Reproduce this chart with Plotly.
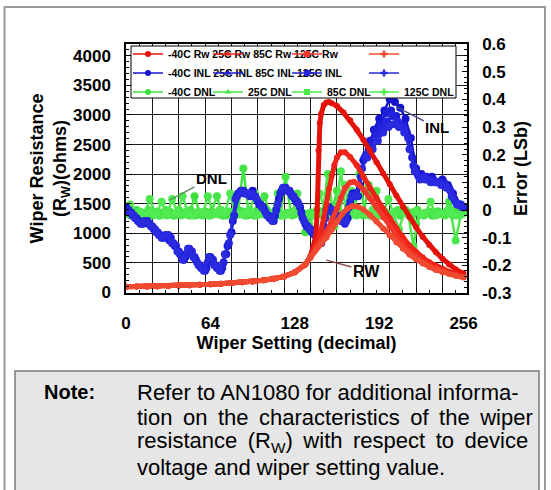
import plotly.graph_objects as go

# ---------------- data ----------------
wiper_tick_vals = [0, 64, 128, 192, 256]
wiper_tick_text = ["0", "64", "128", "192", "256"]
rw_tick_vals = [0, 500, 1000, 1500, 2000, 2500, 3000, 3500, 4000]
rw_tick_text = ["0", "500", "1000", "1500", "2000", "2500", "3000", "3500", "4000"]
err_tick_vals = [-0.3, -0.2, -0.1, 0, 0.1, 0.2, 0.3, 0.4, 0.5, 0.6]
err_tick_text = ["-0.3", "-0.2", "-0.1", "0", "0.1", "0.2", "0.3", "0.4", "0.5", "0.6"]

# wiper resistance (ohms): common low part, then one tail per temperature
rw_low_codes = [0, 8, 16, 24, 32, 40, 48, 56, 64, 72, 80, 88, 96, 104, 112, 120, 128, 136]
rw_low_ohms = [95, 98, 102, 106, 110, 115, 121, 128, 136, 146, 157, 170, 185, 205, 232, 270, 340, 470]

rw_m40_codes = [140, 142, 144, 145, 146, 147, 148, 150, 152, 154, 156, 160, 165, 170, 175, 180, 185, 190,
                195, 200, 205, 210, 215, 220, 225, 230, 235, 240, 245, 250, 256]
rw_m40_ohms = [620, 760, 950, 1400, 2400, 2860, 3020, 3170, 3210, 3220, 3200, 3150, 3040, 2910, 2750, 2580,
               2400, 2200, 2010, 1830, 1640, 1450, 1270, 1100, 940, 800, 680, 570, 470, 390, 320]

rw_25_codes = [140, 144, 148, 150, 152, 154, 156, 158, 160, 163, 166, 170, 175, 180, 185, 190, 195, 200,
               205, 210, 215, 220, 225, 230, 235, 240, 245, 250, 256]
rw_25_ohms = [610, 800, 1050, 1250, 1500, 1750, 1980, 2150, 2280, 2370, 2370, 2290, 2150, 1950, 1760, 1590,
              1420, 1250, 1080, 930, 790, 680, 590, 510, 450, 400, 350, 310, 270]

rw_85_codes = [140, 144, 148, 152, 156, 160, 163, 166, 170, 173, 176, 180, 185, 190, 195, 200, 205, 210,
               215, 220, 225, 230, 235, 240, 245, 250, 256]
rw_85_ohms = [600, 760, 880, 1020, 1200, 1420, 1600, 1760, 1860, 1870, 1830, 1740, 1590, 1430, 1270, 1110,
              960, 820, 700, 600, 520, 450, 400, 360, 320, 290, 260]

rw_125_codes = [140, 144, 148, 152, 156, 160, 164, 168, 172, 176, 180, 185, 190, 195, 200, 205, 210, 215,
                220, 225, 230, 235, 240, 245, 250, 256]
rw_125_ohms = [590, 720, 820, 930, 1060, 1200, 1330, 1420, 1460, 1450, 1400, 1310, 1200, 1080, 960, 850,
               740, 640, 560, 490, 430, 380, 340, 310, 280, 250]

# INL (LSb), each temperature sampled on every 4th code (interleaved)
inl_m40_codes = list(range(0, 257, 4))
inl_m40 = [0.01, -0.01, -0.03, -0.05, -0.04, -0.06, -0.08, -0.10, -0.09, -0.12, -0.15, -0.18, -0.14, -0.17,
           -0.20, -0.22, -0.17, -0.20, -0.22, -0.16, -0.08, 0.05, 0.07, 0.06, 0.07, 0.03, 0.01, -0.02, -0.04,
           0.04, 0.08, 0.07, 0.04, 0.01, -0.05, -0.07, -0.09, -0.12, 0.00, 0.00, -0.02, -0.04, -0.03, 0.06,
           0.05, 0.18, 0.22, 0.29, 0.33, 0.36, 0.40, 0.39, 0.37, 0.33, 0.26, 0.15, 0.13, 0.12, 0.12, 0.10,
           0.11, 0.09, 0.06, 0.02, 0.01]
inl_25_codes = list(range(1, 256, 4))
inl_25 = [0.00, -0.02, -0.04, -0.05, -0.05, -0.07, -0.09, -0.10, -0.11, -0.13, -0.16, -0.17, -0.15, -0.18,
          -0.21, -0.21, -0.18, -0.21, -0.21, -0.13, -0.04, 0.06, 0.07, 0.06, 0.05, 0.02, 0.00, -0.03, -0.02,
          0.06, 0.08, 0.06, 0.03, -0.01, -0.06, -0.08, -0.10, -0.10, 0.00, -0.01, -0.03, -0.04, 0.01, 0.06,
          0.09, 0.19, 0.25, 0.29, 0.31, 0.35, 0.36, 0.34, 0.31, 0.28, 0.19, 0.13, 0.12, 0.11, 0.11, 0.10,
          0.10, 0.08, 0.04, 0.02]
inl_85_codes = list(range(2, 256, 4))
inl_85 = [0.00, -0.02, -0.04, -0.04, -0.05, -0.07, -0.09, -0.09, -0.10, -0.13, -0.16, -0.16, -0.15, -0.19,
          -0.21, -0.19, -0.18, -0.21, -0.19, -0.12, -0.02, 0.06, 0.06, 0.05, 0.05, 0.02, -0.01, -0.03, 0.00,
          0.07, 0.07, 0.05, 0.03, -0.03, -0.06, -0.08, -0.11, -0.06, 0.01, -0.02, -0.03, -0.05, 0.03, 0.05,
          0.12, 0.20, 0.23, 0.27, 0.30, 0.32, 0.34, 0.32, 0.30, 0.26, 0.16, 0.12, 0.12, 0.11, 0.10, 0.10,
          0.09, 0.07, 0.03, 0.02]
inl_125_codes = list(range(3, 256, 4))
inl_125 = [-0.01, -0.03, -0.05, -0.04, -0.06, -0.08, -0.10, -0.09, -0.12, -0.15, -0.18, -0.14, -0.17, -0.20,
           -0.22, -0.17, -0.20, -0.22, -0.16, -0.09, 0.04, 0.07, 0.06, 0.06, 0.04, 0.01, -0.02, -0.04, 0.02,
           0.08, 0.07, 0.05, 0.02, -0.04, -0.07, -0.09, -0.12, -0.03, 0.00, -0.02, -0.04, -0.04, 0.05, 0.05,
           0.15, 0.19, 0.22, 0.25, 0.28, 0.30, 0.31, 0.30, 0.28, 0.22, 0.14, 0.11, 0.11, 0.10, 0.10, 0.09,
           0.08, 0.05, 0.02, 0.01]

# DNL (LSb), same interleaving
dnl_m40_codes = list(range(0, 257, 4))
dnl_m40 = [-0.01, -0.02, 0.0, -0.015, -0.01, -0.02, -0.005, -0.015, -0.01, -0.02, 0.0, -0.01, -0.02, 0.05,
           -0.015, -0.005, -0.02, -0.01, 0.0, -0.02, -0.01, -0.015, -0.005, -0.02, -0.01, 0.0, -0.015, -0.02,
           -0.01, -0.005, -0.02, -0.01, -0.015, 0.0, -0.08, -0.01, -0.02, -0.005, -0.015, -0.01, 0.07, -0.02,
           -0.01, 0.0, -0.015, -0.02, 0.09, -0.01, -0.02, -0.005, -0.015, -0.01, -0.02, 0.0, -0.01, -0.05,
           -0.015, -0.01, -0.02, -0.005, -0.015, -0.01, -0.02, 0.0, -0.01]
dnl_25_codes = list(range(1, 256, 4))
dnl_25 = [-0.015, -0.005, -0.02, -0.01, 0.0, -0.015, -0.02, -0.01, -0.005, -0.02, -0.01, -0.015, 0.0, -0.02,
          -0.01, -0.015, -0.005, 0.05, -0.02, -0.01, -0.015, 0.0, 0.15, -0.01, -0.02, -0.005, 0.05, -0.015,
          -0.01, -0.02, 0.12, -0.01, -0.005, -0.02, -0.015, -0.01, 0.0, -0.02, 0.13, -0.015, -0.01, -0.02,
          -0.005, -0.015, 0.13, -0.01, -0.02, 0.0, -0.015, -0.01, -0.02, -0.005, -0.015, -0.01, -0.02, 0.0,
          -0.015, -0.01, -0.02, -0.005, -0.015, 0.03, -0.01, -0.02]
dnl_85_codes = list(range(2, 256, 4))
dnl_85 = [-0.01, -0.02, -0.005, -0.015, 0.04, -0.01, -0.02, 0.0, -0.015, -0.01, -0.02, -0.005, -0.015, -0.01,
          -0.02, 0.05, -0.01, -0.015, -0.02, -0.005, -0.01, -0.015, -0.02, 0.0, 0.06, -0.015, -0.01, -0.02,
          -0.005, -0.015, -0.01, -0.02, 0.06, -0.01, -0.015, -0.02, -0.005, -0.01, -0.015, -0.06, -0.01, 0.09,
          -0.02, -0.01, -0.005, -0.015, -0.02, 0.07, -0.01, -0.015, -0.02, 0.0, -0.01, -0.015, -0.13, -0.01,
          -0.02, -0.005, -0.015, -0.01, -0.02, 0.0, -0.11, -0.015]
dnl_125_codes = list(range(3, 256, 4))
dnl_125 = [0.02, -0.015, -0.01, -0.02, -0.005, -0.015, 0.03, -0.02, 0.04, -0.01, 0.05, -0.015, -0.02, -0.005,
           -0.01, -0.02, -0.015, 0.0, -0.01, 0.06, -0.02, -0.015, -0.005, -0.01, -0.02, -0.015, 0.0, -0.01,
           0.06, -0.02, -0.015, -0.005, -0.01, -0.02, -0.05, -0.015, 0.06, -0.01, -0.02, -0.005, 0.14, -0.015,
           0.07, -0.02, -0.01, -0.015, 0.0, -0.02, -0.01, 0.04, -0.015, -0.07, -0.01, -0.02, -0.005, -0.015,
           -0.01, 0.03, -0.02, -0.015, -0.005, -0.01, -0.02, -0.015]

# legend columns as printed in the reference (texts of column 1 run across the row)
legend_columns = [
    ["-40C Rw 25C Rw 85C Rw 125C Rw", "-40C INL 25C INL 85C INL 125C INL", "-40C DNL"],
    [" ", " ", "25C DNL"],
    [" ", " ", "85C DNL"],
    [" ", " ", "125C DNL"],
]

note_label = "Note:"
note_lines = [
    "Refer to AN1080 for additional informa-",
    "tion on the characteristics of the wiper",
    "resistance (R<sub>W</sub>) with respect to device",
    "voltage and wiper setting value.",
]

# ---------------- styling ----------------
FONT = "Liberation Sans, Arial, Helvetica, sans-serif"
RW_COLORS = ["#e3130b", "#ee2418", "#f3352a", "#f04a30"]
INL_COLORS = ["#1515d0", "#1e1ed8", "#2424dc", "#2a2ae0"]
DNL_COLORS = ["#3ddf3d", "#45e445", "#4be84b", "#52ea52"]
SYMBOLS = ["circle", "triangle-up", "square", "cross"]
GRID = "#1c1c1c"

W_PX, H_PX = 551, 490
L, R, T, B = 126, 467, 44, 293


def px(xp):
    return (xp - L) / (R - L)


def py(yp):
    return (B - yp) / (B - T)


fig = go.Figure()

# DNL (drawn first, lowest)
dnl_sets = [(dnl_m40_codes, dnl_m40, "-40C DNL"), (dnl_25_codes, dnl_25, "25C DNL"),
            (dnl_85_codes, dnl_85, "85C DNL"), (dnl_125_codes, dnl_125, "125C DNL")]
for i, (cx, cy, nm) in enumerate(dnl_sets):
    fig.add_trace(go.Scatter(x=cx, y=cy, name=nm, mode="lines+markers", xaxis="x", yaxis="y",
                             line=dict(color=DNL_COLORS[i], width=2.5),
                             marker=dict(color=DNL_COLORS[i], size=8, symbol="circle"),
                             showlegend=False))

# INL
inl_sets = [(inl_m40_codes, inl_m40, "-40C INL"), (inl_25_codes, inl_25, "25C INL"),
            (inl_85_codes, inl_85, "85C INL"), (inl_125_codes, inl_125, "125C INL")]
for i, (cx, cy, nm) in enumerate(inl_sets):
    fig.add_trace(go.Scatter(x=cx, y=cy, name=nm, mode="lines+markers", xaxis="x", yaxis="y",
                             line=dict(color=INL_COLORS[i], width=2.5),
                             marker=dict(color=INL_COLORS[i], size=8, symbol="circle"),
                             showlegend=False))

# Rw on the overlaying left axis (drawn on top)
rw_sets = [(rw_m40_codes, rw_m40_ohms, "-40C Rw"), (rw_25_codes, rw_25_ohms, "25C Rw"),
           (rw_85_codes, rw_85_ohms, "85C Rw"), (rw_125_codes, rw_125_ohms, "125C Rw")]
for i, (cx, cy, nm) in enumerate(rw_sets):
    fig.add_trace(go.Scatter(x=rw_low_codes + cx, y=rw_low_ohms + cy, name=nm, mode="lines+markers",
                             xaxis="x", yaxis="y2",
                             line=dict(color=RW_COLORS[i], width=5),
                             marker=dict(color=RW_COLORS[i], size=6, symbol="circle"),
                             showlegend=False))

# legend entries, one legend per column; these also carry the labelled x axis (x2)
legend_ids = ["legend", "legend2", "legend3", "legend4"]
row_colors = [RW_COLORS, INL_COLORS, DNL_COLORS]
for c, col in enumerate(legend_columns):
    for r, lab in enumerate(col):
        fig.add_trace(go.Scatter(x=[None], y=[None], name=lab, mode="lines+markers", xaxis="x2", yaxis="y",
                                 line=dict(color=row_colors[r][c], width=1.5),
                                 marker=dict(color=row_colors[r][c], size=6, symbol=SYMBOLS[c]),
                                 showlegend=True, legend=legend_ids[c], hoverinfo="skip"))

tickfont = dict(family=FONT, size=17, color="black", weight="bold")
titlefont = dict(family=FONT, size=18, color="black", weight="bold")
legend_font = dict(family=FONT, size=10.5, color="black", weight="bold")
legend_left = [128, 208, 287, 364]


def legend_style(xpix):
    return dict(orientation="v", x=px(xpix), y=py(39.5), xanchor="left", yanchor="top",
                bgcolor="rgba(0,0,0,0)", borderwidth=0, font=legend_font, itemwidth=30,
                traceorder="normal")


fig.update_layout(
    width=W_PX, height=H_PX,
    margin=dict(l=L, r=W_PX - R, t=T, b=H_PX - B, pad=0),
    paper_bgcolor="white", plot_bgcolor="white",
    font=dict(family=FONT, color="black"),
    showlegend=True,
    legend=legend_style(legend_left[0]),
    legend2=legend_style(legend_left[1]),
    legend3=legend_style(legend_left[2]),
    legend4=legend_style(legend_left[3]),
    xaxis=dict(range=[0, 258.6], tick0=0, dtick=20, showticklabels=False, showgrid=True,
               gridcolor=GRID, gridwidth=1.2, ticks="inside", ticklen=5, tickcolor="black",
               showline=True, linecolor="black", linewidth=1.5, mirror="ticks", zeroline=False,
               minor=dict(dtick=10, tick0=0, ticks="inside", ticklen=3, tickcolor="black", showgrid=False)),
    xaxis2=dict(range=[0, 258.6], overlaying="x", anchor="y", side="bottom",
                tickmode="array", tickvals=wiper_tick_vals, ticktext=wiper_tick_text,
                showgrid=False, ticks="", showline=False, zeroline=False,
                tickfont=tickfont, ticklabelstandoff=18,
                title=dict(text="Wiper Setting (decimal)", font=titlefont, standoff=4)),
    yaxis=dict(range=[-0.3, 0.6], side="right", anchor="x",
               tickmode="array", tickvals=err_tick_vals, ticktext=err_tick_text,
               showgrid=False, ticks="inside", ticklen=5, tickcolor="black",
               showline=True, linecolor="black", linewidth=1.5, zeroline=False,
               tickfont=tickfont, ticklabelstandoff=10,
               minor=dict(dtick=0.02, tick0=0, ticks="inside", ticklen=3, tickcolor="black", showgrid=False),
               title=dict(text="Error (LSb)", font=titlefont, standoff=4)),
    yaxis2=dict(range=[-10, 4200], overlaying="y", side="left", anchor="x",
                tickmode="array", tickvals=rw_tick_vals, ticktext=rw_tick_text,
                showgrid=True, gridcolor=GRID, gridwidth=1.2,
                ticks="inside", ticklen=6, tickcolor="black",
                showline=True, linecolor="black", linewidth=1.5, zeroline=False,
                tickfont=tickfont, ticklabelstandoff=10,
                minor=dict(dtick=100, tick0=0, ticks="inside", ticklen=3, tickcolor="black", showgrid=False),
                title=dict(text="Wiper Resistance<br>(R<sub>W</sub>)(ohms)", font=titlefont, standoff=0)),
)

shapes = [
    # note box
    dict(type="rect", xref="paper", yref="paper", x0=px(15), x1=px(539), y0=py(530), y1=py(371),
         fillcolor="#e6e6e6", line=dict(color="#7a7a7a", width=1.5), layer="below"),
    # outer frame
    dict(type="rect", xref="paper", yref="paper", x0=px(4.5), x1=px(545), y0=py(540), y1=py(7),
         fillcolor="rgba(0,0,0,0)", line=dict(color="#9a9a9a", width=2), layer="above"),
    # legend box
    dict(type="rect", xref="paper", yref="paper", x0=px(131), x1=px(456), y0=py(98), y1=py(46),
         fillcolor="white", line=dict(color="black", width=1), layer="above"),
]

TS = "\u2009"
note_spaced = [
    note_lines[0],
    note_lines[1].replace(" ", " " + TS),
    note_lines[2].replace("resistance (", "resistance " + TS + "(").replace(") with", ") " + TS + "with")
        .replace("with respect", "with " + TS + "respect").replace("respect to", "respect " + TS + "to")
        .replace("to device", "to " + TS + "device"),
    note_lines[3],
]

annotations = [
    dict(text="DNL", x=33, y=0.036, xref="x", yref="y", showarrow=True, arrowhead=0, arrowwidth=1.5,
         arrowcolor="#5f8f5f", ax=42, ay=-22, font=dict(family=FONT, size=15, color="black", weight="bold")),
    dict(text="INL", x=205, y=0.373, xref="x", yref="y", showarrow=True, arrowhead=0, arrowwidth=1.5,
         arrowcolor="#4a4a88", ax=41, ay=21, font=dict(family=FONT, size=15, color="black", weight="bold")),
    dict(text="RW", x=152, y=546, xref="x", yref="y2", showarrow=True, arrowhead=0, arrowwidth=1.5,
         arrowcolor="#8a4a4a", ax=40, ay=11, font=dict(family=FONT, size=16, color="black", weight="bold")),
    dict(text=note_label, x=px(42), y=py(392), xref="paper", yref="paper", xanchor="left", yanchor="middle",
         showarrow=False, font=dict(family=FONT, size=20, color="black", weight="bold")),
]
for i, line in enumerate(note_spaced):
    annotations.append(dict(text=line, x=px(135), y=py(392 + 25 * i), xref="paper", yref="paper",
                            xanchor="left", yanchor="middle", showarrow=False,
                            font=dict(family=FONT, size=22, color="black")))

fig.update_layout(shapes=shapes, annotations=annotations)

fig.write_html("out.html")
